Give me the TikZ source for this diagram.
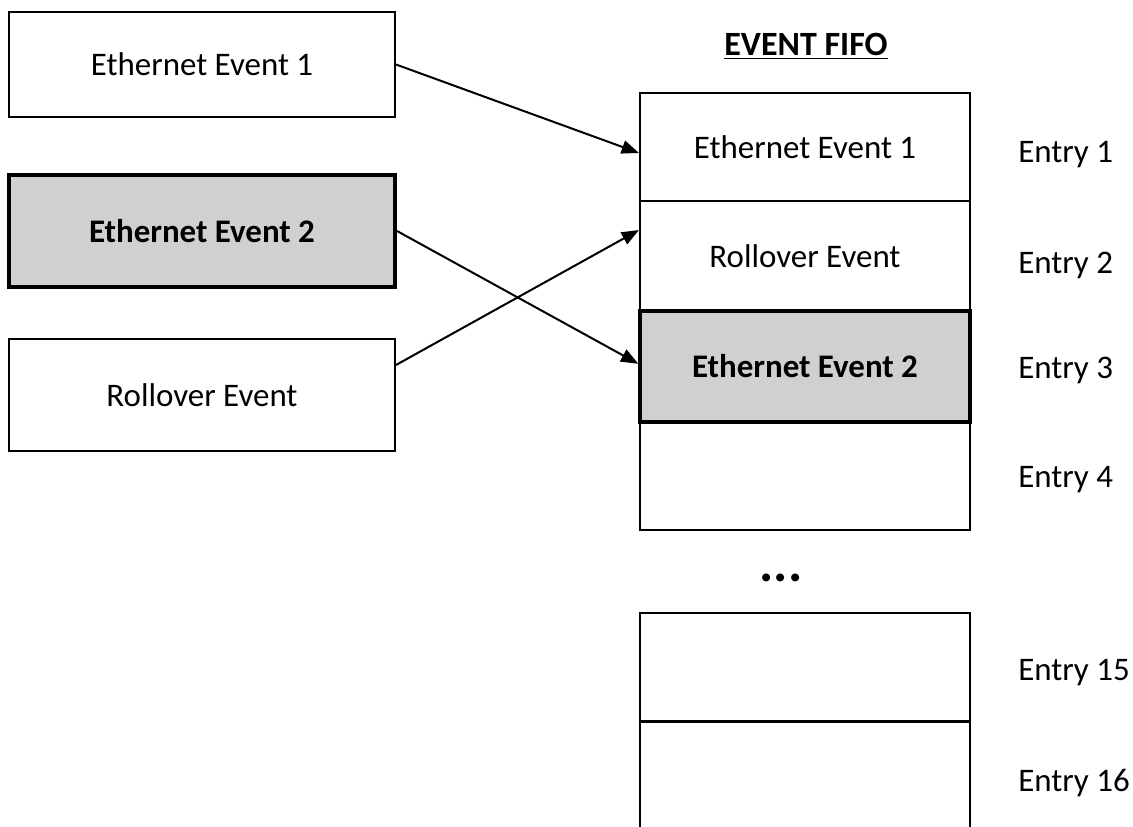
\documentclass[tikz,border=0pt]{standalone}
\usepackage{fontspec}
\setmainfont{Carlito}
\usetikzlibrary{arrows.meta}
\definecolor{boxgray}{RGB}{208,208,208}
\tikzset{
  x=0.75pt, y=-0.75pt,
  txt/.style={font=\fontsize{24.7}{28}\selectfont},
  evbox/.style={draw, line width=1.5pt, rectangle, minimum width=386*0.75pt, minimum height=108*0.75pt, inner sep=0pt, txt},
  hlbox/.style={evbox, fill=boxgray, line width=3pt, font=\fontsize{24.7}{28}\selectfont\bfseries},
  fifo/.style={draw, line width=1.5pt, rectangle, minimum width=330*0.75pt, inner sep=0pt, txt},
  fifohl/.style={fifo, fill=boxgray, line width=2.5pt, font=\fontsize{24.7}{28}\selectfont\bfseries},
  entry/.style={anchor=west, inner sep=0pt, txt},
  arr/.style={line width=1.5pt, -{Triangle[length=13pt,width=10pt]}}
}
\begin{document}
\begin{tikzpicture}
\clip (0,0) rectangle (1133,827);
\fill[white] (0,0) rectangle (1133,827);

% source events
\node[evbox, minimum height=105*0.75pt] (b1) at (202,64.5) {Ethernet Event 1};
\node[hlbox, minimum height=112*0.75pt] (b2) at (202,231) {Ethernet Event 2};
\node[evbox, minimum height=112*0.75pt] (b3) at (202,395) {Rollover Event};

% FIFO title
\node[font=\fontsize{25.5}{28}\selectfont\bfseries, inner sep=0pt] (title) at (806,46) {\underline{EVENT FIFO}};

% FIFO rows
\node[fifo, minimum height=108*0.75pt] (r1) at (805,147) {Ethernet Event 1};
\node[fifo, minimum height=110*0.75pt] (r2) at (805,256) {Rollover Event};
\node[fifo, minimum height=108*0.75pt] (r4) at (805,476) {};
\node[fifohl, minimum height=111*0.75pt] (r3) at (805,366.5) {Ethernet Event 2};
\node[font=\fontsize{40}{40}\selectfont\bfseries, inner sep=0pt] (dots) at (781,578) {...};
\node[fifo, minimum height=108*0.75pt] (r5) at (805,667) {};
\node[fifo, minimum height=130*0.75pt, anchor=north] (r6) at (805,721) {};

% entry labels
\node[entry] (e1) at (1018,155) {Entry 1};
\node[entry] (e2) at (1018,265) {Entry 2};
\node[entry] (e3) at (1018,370) {Entry 3};
\node[entry] (e4) at (1018,480) {Entry 4};
\node[entry] (e15) at (1018,673) {Entry 15};
\node[entry] (e16) at (1018,783) {Entry 16};

% arrows
\draw[arr] (b1.east) -- ([yshift=-4.5pt]r1.west);
\draw[arr] (b2.east) -- ([yshift=2pt]r3.west);
\draw[arr] ([yshift=22.5pt]b3.east) -- ([yshift=19.5pt]r2.west);
\end{tikzpicture}
\end{document}
